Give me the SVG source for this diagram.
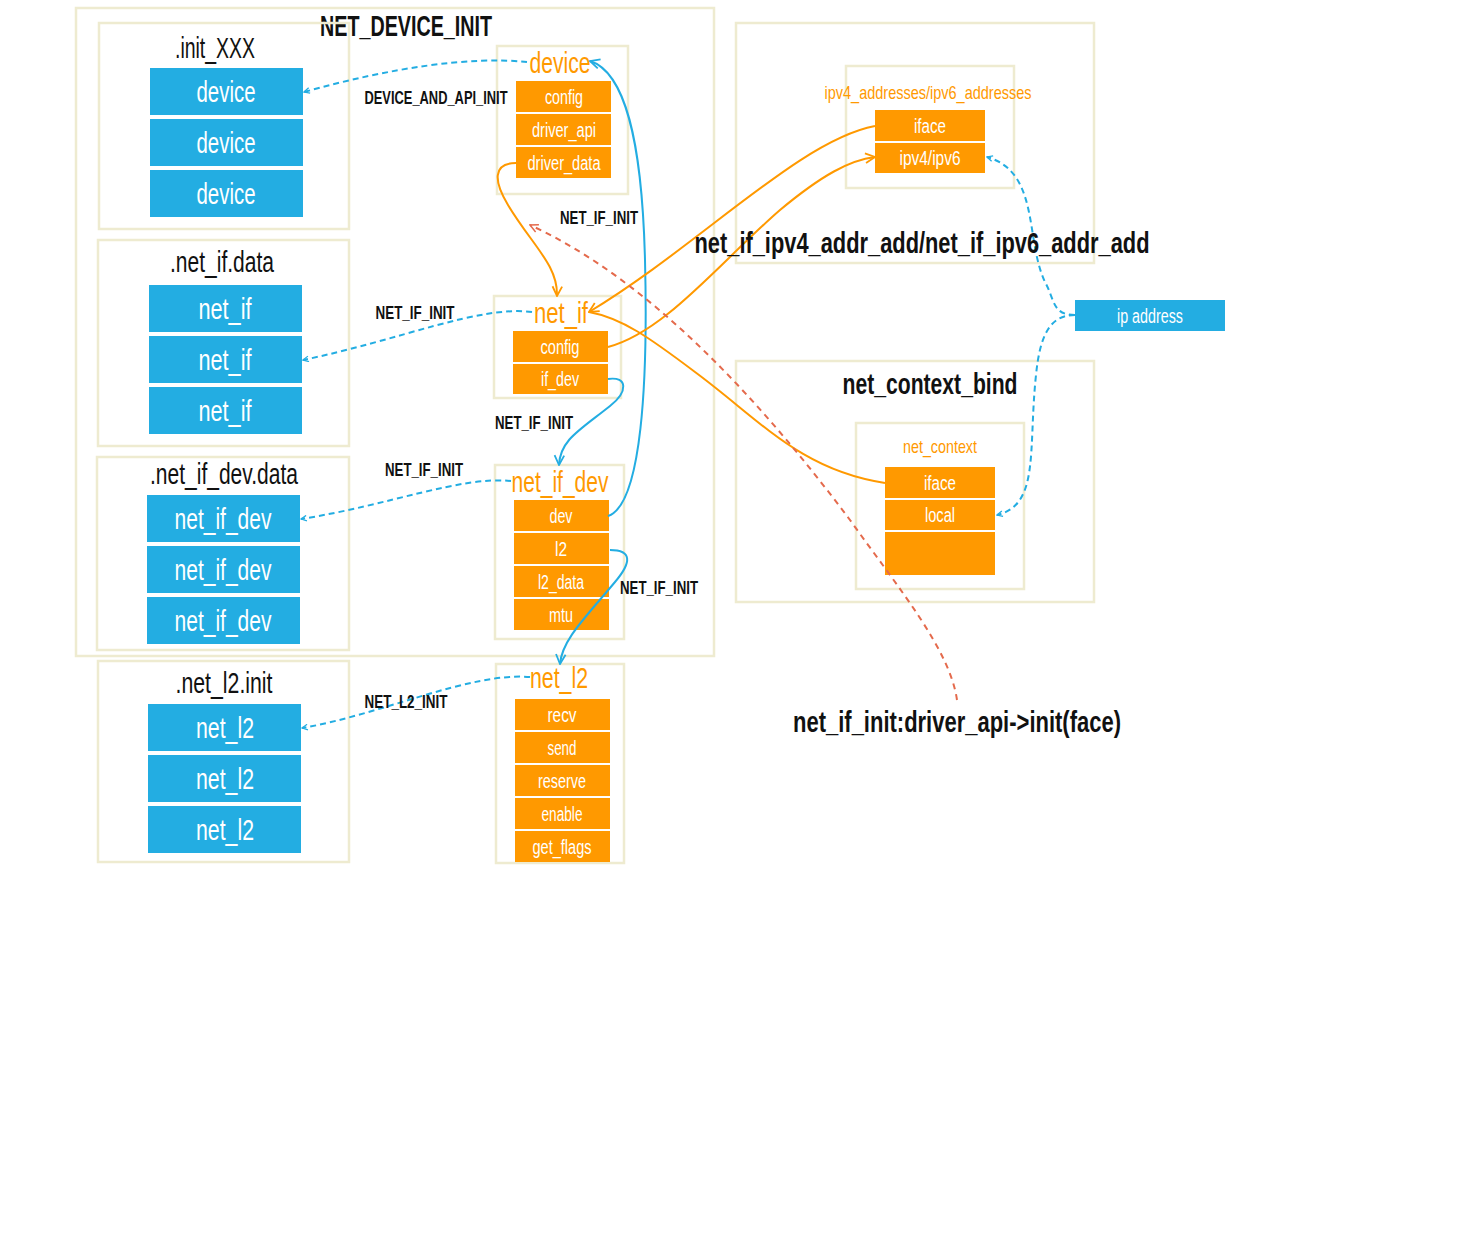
<svg xmlns="http://www.w3.org/2000/svg" width="1479" height="1255" viewBox="0 0 1479 1255">
<style>
text{font-family:"Liberation Sans","DejaVu Sans Condensed",sans-serif;text-anchor:middle}
.frame{fill:none;stroke:#eeebd0;stroke-width:2.5}
.blue{fill:#23ade2}
.fld{fill:#ff9900}
.bt{fill:#ffffff;font-size:29px}
.ft{fill:#ffffff;font-size:20px}
.ot{fill:#ff9900;font-size:29px}
.gt{fill:#111;font-size:29px}
.lbl{fill:#111;font-size:19px;font-weight:bold}
.big{fill:#111;font-size:29px;font-weight:bold}
.cb{fill:none;stroke:#23ade2;stroke-width:2}
.cbd{fill:none;stroke:#23ade2;stroke-width:2;stroke-dasharray:6 4}
.co{fill:none;stroke:#ff9900;stroke-width:2}
.cr{fill:none;stroke:#e46a4c;stroke-width:2;stroke-dasharray:6 5}
</style>
<defs>
<marker id="ab" viewBox="0 0 10 10" refX="9" refY="5" markerWidth="7" markerHeight="7" orient="auto-start-reverse" markerUnits="userSpaceOnUse"><path d="M1,1 L9,5 L1,9" fill="none" stroke="#23ade2" stroke-width="1.8"/></marker>
<marker id="ao" viewBox="0 0 10 10" refX="9" refY="5" markerWidth="12" markerHeight="12" orient="auto-start-reverse" markerUnits="userSpaceOnUse"><path d="M1,1 L9,5 L1,9" fill="none" stroke="#ff9900" stroke-width="1.5"/></marker>
<marker id="abs" viewBox="0 0 10 10" refX="9" refY="5" markerWidth="12" markerHeight="12" orient="auto-start-reverse" markerUnits="userSpaceOnUse"><path d="M1,1 L9,5 L1,9" fill="none" stroke="#23ade2" stroke-width="1.5"/></marker>
<marker id="ar" viewBox="0 0 10 10" refX="9" refY="5" markerWidth="10" markerHeight="10" orient="auto-start-reverse" markerUnits="userSpaceOnUse"><path d="M1,1 L9,5 L1,9" fill="none" stroke="#e46a4c" stroke-width="1.5"/></marker>
</defs>
<rect width="1479" height="1255" fill="#ffffff"/>

<g id="net_device_init">
<rect class="frame" x="76" y="8" width="638" height="648"/>
<text class="big" x="406" y="36" font-size="31" textLength="172" lengthAdjust="spacingAndGlyphs">NET_DEVICE_INIT</text>
</g>

<g id="init_xxx">
<rect class="frame" x="99" y="23" width="250" height="206"/>
<text class="gt" x="215" y="58" textLength="80" lengthAdjust="spacingAndGlyphs">.init_XXX</text>
<rect class="blue" x="150" y="68" width="153" height="47"/><text class="bt" x="226" y="102" textLength="59" lengthAdjust="spacingAndGlyphs">device</text>
<rect class="blue" x="150" y="119" width="153" height="47"/><text class="bt" x="226" y="153" textLength="59" lengthAdjust="spacingAndGlyphs">device</text>
<rect class="blue" x="150" y="170" width="153" height="47"/><text class="bt" x="226" y="204" textLength="59" lengthAdjust="spacingAndGlyphs">device</text>
</g>

<g id="net_if_data">
<rect class="frame" x="98" y="240" width="251" height="206"/>
<text class="gt" x="222" y="272" textLength="104" lengthAdjust="spacingAndGlyphs">.net_if.data</text>
<rect class="blue" x="149" y="285" width="153" height="47"/><text class="bt" x="225" y="319" textLength="53" lengthAdjust="spacingAndGlyphs">net_if</text>
<rect class="blue" x="149" y="336" width="153" height="47"/><text class="bt" x="225" y="370" textLength="53" lengthAdjust="spacingAndGlyphs">net_if</text>
<rect class="blue" x="149" y="387" width="153" height="47"/><text class="bt" x="225" y="421" textLength="53" lengthAdjust="spacingAndGlyphs">net_if</text>
</g>

<g id="net_if_dev_data">
<rect class="frame" x="97" y="457" width="252" height="193"/>
<text class="gt" x="224" y="484" textLength="148" lengthAdjust="spacingAndGlyphs">.net_if_dev.data</text>
<rect class="blue" x="147" y="495" width="153" height="47"/><text class="bt" x="223" y="529" textLength="97" lengthAdjust="spacingAndGlyphs">net_if_dev</text>
<rect class="blue" x="147" y="546" width="153" height="47"/><text class="bt" x="223" y="580" textLength="97" lengthAdjust="spacingAndGlyphs">net_if_dev</text>
<rect class="blue" x="147" y="597" width="153" height="47"/><text class="bt" x="223" y="631" textLength="97" lengthAdjust="spacingAndGlyphs">net_if_dev</text>
</g>

<g id="net_l2_init">
<rect class="frame" x="98" y="661" width="251" height="201"/>
<text class="gt" x="224" y="693" textLength="97" lengthAdjust="spacingAndGlyphs">.net_l2.init</text>
<rect class="blue" x="148" y="704" width="153" height="47"/><text class="bt" x="225" y="738" textLength="58" lengthAdjust="spacingAndGlyphs">net_l2</text>
<rect class="blue" x="148" y="755" width="153" height="47"/><text class="bt" x="225" y="789" textLength="58" lengthAdjust="spacingAndGlyphs">net_l2</text>
<rect class="blue" x="148" y="806" width="153" height="47"/><text class="bt" x="225" y="840" textLength="58" lengthAdjust="spacingAndGlyphs">net_l2</text>
</g>

<g id="device">
<rect class="frame" x="497" y="46" width="131" height="148"/>
<text class="ot" x="560" y="73" font-size="27" textLength="61" lengthAdjust="spacingAndGlyphs">device</text>
<rect class="fld" x="516" y="81" width="95" height="31"/><text class="ft" x="564" y="104" font-size="19" textLength="38" lengthAdjust="spacingAndGlyphs">config</text>
<rect class="fld" x="516" y="114" width="95" height="31"/><text class="ft" x="564" y="137" textLength="64" lengthAdjust="spacingAndGlyphs">driver_api</text>
<rect class="fld" x="516" y="147" width="95" height="31"/><text class="ft" x="564" y="170" textLength="73" lengthAdjust="spacingAndGlyphs">driver_data</text>
</g>

<g id="net_if">
<rect class="frame" x="494" y="296" width="127" height="102"/>
<text class="ot" x="561" y="323" textLength="54" lengthAdjust="spacingAndGlyphs">net_if</text>
<rect class="fld" x="513" y="331" width="95" height="31"/><text class="ft" x="560" y="354" textLength="39" lengthAdjust="spacingAndGlyphs">config</text>
<rect class="fld" x="513" y="364" width="95" height="30"/><text class="ft" x="560" y="386" textLength="38" lengthAdjust="spacingAndGlyphs">if_dev</text>
</g>

<g id="net_if_dev">
<rect class="frame" x="495" y="465" width="129" height="174"/>
<text class="ot" x="560" y="492" textLength="97" lengthAdjust="spacingAndGlyphs">net_if_dev</text>
<rect class="fld" x="514" y="500" width="95" height="31"/><text class="ft" x="561" y="523" textLength="23" lengthAdjust="spacingAndGlyphs">dev</text>
<rect class="fld" x="514" y="533" width="95" height="31"/><text class="ft" x="561" y="556" textLength="12" lengthAdjust="spacingAndGlyphs">l2</text>
<rect class="fld" x="514" y="566" width="95" height="31"/><text class="ft" x="561" y="589" textLength="46" lengthAdjust="spacingAndGlyphs">l2_data</text>
<rect class="fld" x="514" y="599" width="95" height="31"/><text class="ft" x="561" y="622" textLength="24" lengthAdjust="spacingAndGlyphs">mtu</text>
</g>

<g id="net_l2">
<rect class="frame" x="496" y="664" width="128" height="199"/>
<text class="ot" x="559" y="688" textLength="58" lengthAdjust="spacingAndGlyphs">net_l2</text>
<rect class="fld" x="515" y="699" width="95" height="31"/><text class="ft" x="562" y="722" textLength="29" lengthAdjust="spacingAndGlyphs">recv</text>
<rect class="fld" x="515" y="732" width="95" height="31"/><text class="ft" x="562" y="755" textLength="29" lengthAdjust="spacingAndGlyphs">send</text>
<rect class="fld" x="515" y="765" width="95" height="31"/><text class="ft" x="562" y="788" textLength="48" lengthAdjust="spacingAndGlyphs">reserve</text>
<rect class="fld" x="515" y="798" width="95" height="31"/><text class="ft" x="562" y="821" textLength="41" lengthAdjust="spacingAndGlyphs">enable</text>
<rect class="fld" x="515" y="831" width="95" height="31"/><text class="ft" x="562" y="854" textLength="59" lengthAdjust="spacingAndGlyphs">get_flags</text>
</g>

<g id="addr_add">
<rect class="frame" x="736" y="23" width="358" height="240"/>
<rect class="frame" x="846" y="66" width="168" height="122"/>
<text x="928" y="99" fill="#ff9900" font-size="19" textLength="207" lengthAdjust="spacingAndGlyphs">ipv4_addresses/ipv6_addresses</text>
<rect class="fld" x="875" y="110" width="110" height="31"/><text class="ft" x="930" y="133" textLength="32" lengthAdjust="spacingAndGlyphs">iface</text>
<rect class="fld" x="875" y="143" width="110" height="30"/><text class="ft" x="930" y="165" textLength="61" lengthAdjust="spacingAndGlyphs">ipv4/ipv6</text>
</g>

<g id="ip_address">
<rect class="blue" x="1075" y="300" width="150" height="31"/><text class="ft" x="1150" y="323" textLength="66" lengthAdjust="spacingAndGlyphs">ip address</text>
</g>

<g id="net_context_bind">
<rect class="frame" x="736" y="361" width="358" height="241"/>
<text class="big" x="930" y="394" textLength="175" lengthAdjust="spacingAndGlyphs">net_context_bind</text>
<rect class="frame" x="856" y="423" width="168" height="166"/>
<text x="940" y="453" fill="#ff9900" font-size="19" textLength="74" lengthAdjust="spacingAndGlyphs">net_context</text>
<rect class="fld" x="885" y="467" width="110" height="31"/><text class="ft" x="940" y="490" textLength="32" lengthAdjust="spacingAndGlyphs">iface</text>
<rect class="fld" x="885" y="500" width="110" height="30"/><text class="ft" x="940" y="522" textLength="30" lengthAdjust="spacingAndGlyphs">local</text>
<rect class="fld" x="885" y="532" width="110" height="43"/>
</g>

<g id="connectors">
<path class="cbd" d="M527,62 C470,56 390,68 304,92" marker-end="url(#ab)"/>
<path class="cbd" d="M532,312 C480,305 400,340 303,360" marker-end="url(#ab)"/>
<path class="cbd" d="M511,481 C460,476 390,505 301,519" marker-end="url(#ab)"/>
<path class="cbd" d="M530,677 C470,672 380,715 302,728" marker-end="url(#ab)"/>
<path class="co" d="M516,163 C492,163 494,182 508,205 C532,245 558,265 557,296" marker-end="url(#ao)"/>
<path class="cb" d="M608,379 C628,376 628,392 610,406 C580,430 560,440 559,465" marker-end="url(#abs)"/>
<path class="cb" d="M608,516 C642,505 648,380 645,260 C642,140 625,72 590,61" marker-end="url(#abs)"/>
<path class="cb" d="M610,550 C632,550 632,562 615,582 C585,618 562,640 560,664" marker-end="url(#abs)"/>
<path class="co" d="M875,126 C800,140 700,245 589,312" marker-end="url(#ao)"/>
<path class="co" d="M608,347 C665,332 720,262 780,210 C822,175 850,160 875,157" marker-end="url(#ao)"/>
<path class="co" d="M885,483 C800,470 760,420 695,372 C650,338 622,318 589,312"/>
<path class="cbd" d="M1075,315 C1052,315 1055,300 1045,282 C1025,240 1040,172 987,157" marker-end="url(#ab)"/>
<path class="cbd" d="M1075,315 C1050,315 1040,335 1036,375 C1028,450 1040,505 997,515" marker-end="url(#ab)"/>
<path class="cr" d="M957,700 C950,650 900,590 850,520 C760,400 650,280 530,225" marker-end="url(#ar)"/>
</g>

<g id="labels">
<text class="lbl" x="436" y="104" font-size="17" textLength="143" lengthAdjust="spacingAndGlyphs">DEVICE_AND_API_INIT</text>
<text class="lbl" x="599" y="224" textLength="78" lengthAdjust="spacingAndGlyphs">NET_IF_INIT</text>
<text class="lbl" x="415" y="319" textLength="79" lengthAdjust="spacingAndGlyphs">NET_IF_INIT</text>
<text class="lbl" x="534" y="429" textLength="78" lengthAdjust="spacingAndGlyphs">NET_IF_INIT</text>
<text class="lbl" x="424" y="476" textLength="78" lengthAdjust="spacingAndGlyphs">NET_IF_INIT</text>
<text class="lbl" x="659" y="594" textLength="78" lengthAdjust="spacingAndGlyphs">NET_IF_INIT</text>
<text class="lbl" x="406" y="708" textLength="83" lengthAdjust="spacingAndGlyphs">NET_L2_INIT</text>
<text class="big" x="922" y="253" textLength="455" lengthAdjust="spacingAndGlyphs">net_if_ipv4_addr_add/net_if_ipv6_addr_add</text>
<text class="big" x="957" y="732" textLength="328" lengthAdjust="spacingAndGlyphs">net_if_init:driver_api-&gt;init(face)</text>
</g>
</svg>
